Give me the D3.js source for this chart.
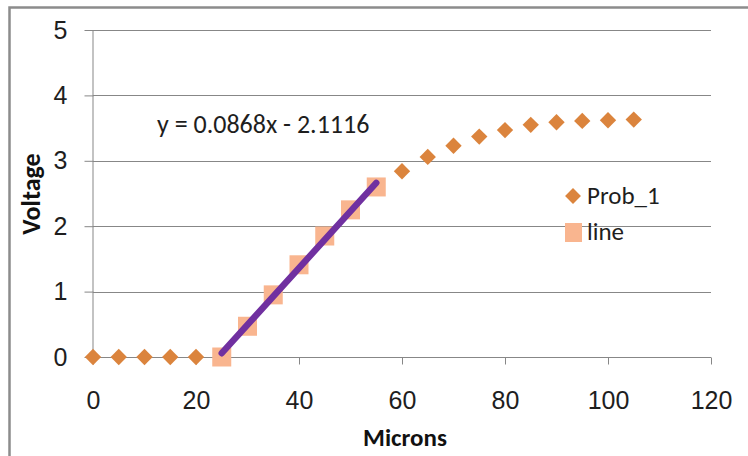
<!DOCTYPE html>
<html>
<head>
<meta charset="utf-8">
<script src="https://cdn.jsdelivr.net/npm/d3@7"></script>
<style>
  html, body { margin: 0; padding: 0; background: #fff; }
  svg { display: block; font-family: Carlito, Calibri, "Open Sans", "Noto Sans", sans-serif; }
</style>
</head>
<body>
<svg id="chart" width="748" height="456"></svg>
<script>
// Measured voltage along the probe path (Prob_1) and the linear section used for the fit
const probX = [0, 5, 10, 15, 20, 60, 65, 70, 75, 80, 85, 90, 95, 100, 105];
const probY = [0, 0, 0, 0, 0, 2.84, 3.06, 3.23, 3.37, 3.47, 3.55, 3.59, 3.61, 3.62, 3.63];
const lineX = [25, 30, 35, 40, 45, 50, 55];
const lineY = [0.0, 0.47, 0.95, 1.41, 1.85, 2.25, 2.60];
// Linear trendline through the "line" points
const fitSlope = 0.0868;
const fitIntercept = -2.1116;
const xTicks = [0, 20, 40, 60, 80, 100, 120];
const yTicks = [0, 1, 2, 3, 4, 5];

const svg = d3.select("#chart");
const x = d3.scaleLinear().domain([0, 120]).range([93, 711]);
const y = d3.scaleLinear().domain([0, 5]).range([357, 30]);

const gray = "#878787";
const textColor = "#1e1e1e";

// Chart frame
svg.append("path")
  .attr("d", "M9.5,460 V7.5 H760")
  .attr("fill", "none").attr("stroke", "#8c8c8c").attr("stroke-width", 2.5);

// Horizontal gridlines
svg.append("g").selectAll("line").data(yTicks.filter(d => d > 0)).join("line")
  .attr("x1", x(0)).attr("x2", x(120))
  .attr("y1", d => Math.round(y(d)) + 0.5).attr("y2", d => Math.round(y(d)) + 0.5)
  .attr("stroke", gray).attr("stroke-width", 1);

// Y axis
const yAxis = svg.append("g")
  .attr("transform", `translate(${Math.round(x(0)) + 0.5},0)`)
  .call(d3.axisLeft(y).tickValues(yTicks).tickSize(9).tickPadding(17).tickFormat(d3.format("d")));
yAxis.select(".domain").attr("stroke", gray).attr("d", `M-0.5,${y(5)}V${y(0)}`);
yAxis.selectAll(".tick line").attr("stroke", gray);
yAxis.selectAll(".tick text").attr("font-size", 25).attr("fill", textColor).attr("font-family", null);

// X axis
const xAxis = svg.append("g")
  .attr("transform", `translate(0,${Math.round(y(0)) + 0.5})`)
  .call(d3.axisBottom(x).tickValues(xTicks).tickSize(7).tickPadding(27).tickFormat(d3.format("d")));
xAxis.select(".domain").attr("stroke", gray).attr("d", `M${x(0)},0H${x(120)}`);
xAxis.selectAll(".tick line").attr("stroke", gray).attr("y1", 0);
xAxis.selectAll(".tick text").attr("font-size", 25).attr("fill", textColor).attr("font-family", null);

// Axis titles
svg.append("text").attr("x", 405).attr("y", 446)
  .attr("text-anchor", "middle").attr("font-size", 25).attr("font-weight", "bold").attr("fill", "#111")
  .text("Microns");
svg.append("text").attr("transform", "translate(40,194) rotate(-90)")
  .attr("text-anchor", "middle").attr("font-size", 26).attr("font-weight", "bold").attr("fill", "#111")
  .text("Voltage");

const diamondColor = "#DB843D";
const squareColor = "#F9B58F";
const diamond = d3.symbol().type(d3.symbolDiamond2).size(170);

// Prob_1 diamonds
svg.append("g").selectAll("path").data(probX.map((d, i) => [d, probY[i]])).join("path")
  .attr("d", diamond)
  .attr("transform", d => `translate(${x(d[0])},${y(d[1])})`)
  .attr("fill", diamondColor);

// "line" squares
const sq = 19;
svg.append("g").selectAll("rect").data(lineX.map((d, i) => [d, lineY[i]])).join("rect")
  .attr("x", d => x(d[0]) - sq / 2).attr("y", d => y(d[1]) - sq / 2)
  .attr("width", sq).attr("height", sq)
  .attr("fill", squareColor);

// Trendline
const x0 = d3.min(lineX), x1 = d3.max(lineX);
svg.append("line")
  .attr("x1", x(x0)).attr("y1", y(fitSlope * x0 + fitIntercept))
  .attr("x2", x(x1)).attr("y2", y(fitSlope * x1 + fitIntercept))
  .attr("stroke", "#7030A0").attr("stroke-width", 6.5).attr("stroke-linecap", "round");

// Trendline equation
svg.append("text").attr("x", 157).attr("y", 133)
  .attr("font-size", 26).attr("fill", textColor)
  .text(`y = ${fitSlope}x - ${Math.abs(fitIntercept)}`);

// Legend
const legend = svg.append("g").attr("font-size", 25).attr("fill", textColor);
legend.append("path").attr("d", d3.symbol().type(d3.symbolDiamond2).size(160))
  .attr("transform", "translate(573,196)").attr("fill", diamondColor);
legend.append("text").attr("x", 587).attr("y", 204).text("Prob_1");
legend.append("rect").attr("x", 565).attr("y", 223).attr("width", 17).attr("height", 19).attr("fill", squareColor);
legend.append("text").attr("x", 587).attr("y", 240).text("line");
</script>
</body>
</html>
